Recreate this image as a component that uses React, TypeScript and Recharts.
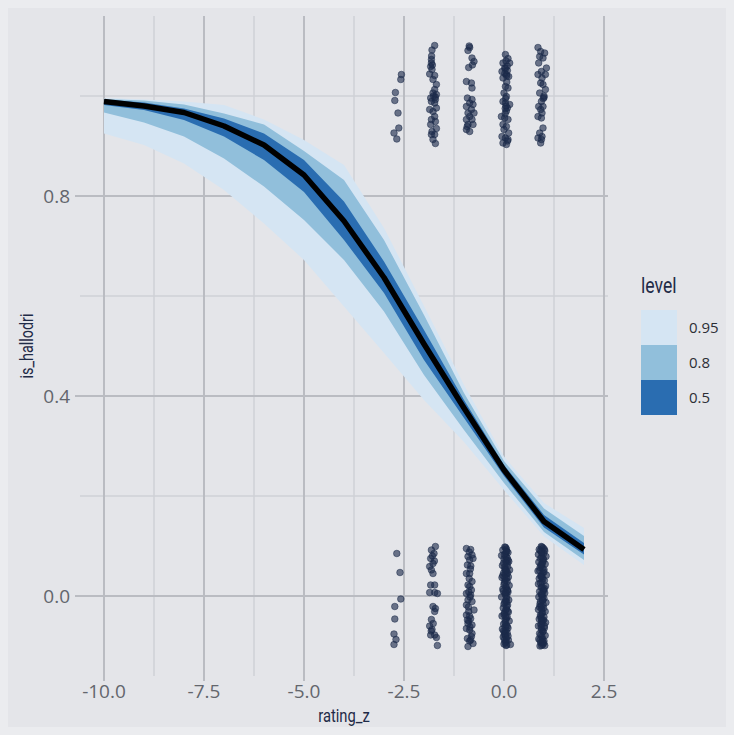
import { ComposedChart, Area, Line, Scatter, XAxis, YAxis, CartesianGrid } from 'recharts'

// posterior curve of is_hallodri over rating_z
const ratingZ = [-10, -9, -8, -7, -6, -5, -4, -3, -2, -1, 0, 1, 2]
const median = [0.989, 0.980, 0.967, 0.940, 0.902, 0.842, 0.750, 0.637, 0.504, 0.376, 0.252, 0.149, 0.093]
const lo95 = [0.925, 0.902, 0.865, 0.812, 0.745, 0.672, 0.579, 0.486, 0.392, 0.308, 0.212, 0.119, 0.062]
const hi95 = [0.996, 0.993, 0.989, 0.982, 0.953, 0.912, 0.862, 0.736, 0.580, 0.422, 0.279, 0.186, 0.136]
const lo80 = [0.967, 0.947, 0.919, 0.875, 0.819, 0.752, 0.672, 0.569, 0.442, 0.332, 0.226, 0.128, 0.072]
const hi80 = [0.994, 0.991, 0.983, 0.965, 0.943, 0.890, 0.832, 0.712, 0.562, 0.406, 0.270, 0.175, 0.120]
const lo50 = [0.982, 0.972, 0.952, 0.919, 0.872, 0.808, 0.712, 0.606, 0.472, 0.356, 0.240, 0.137, 0.083]
const hi50 = [0.993, 0.987, 0.975, 0.955, 0.925, 0.872, 0.789, 0.669, 0.532, 0.392, 0.262, 0.162, 0.106]

const xTicks = [-10, -7.5, -5, -2.5, 0, 2.5]
const xMinor = [-8.75, -6.25, -3.75, -1.25, 1.25]
const yTicks = [0, 0.4, 0.8]
const yMinor = [0.2, 0.6, 1.0]

const levels = ['0.95', '0.8', '0.5']
const levelColors = ['#d5e5f3', '#91bfdb', '#2a6db1']

// jittered observations
const g1Top = [[-2.565, 1.043], [-2.58, 1.033], [-2.715, 1.007], [-2.73, 0.991], [-2.65, 0.966], [-2.63, 0.936], [-2.75, 0.926], [-2.68, 0.914]]
const g2Top = [
  [-1.733, 1.101], [-1.8, 1.092], [-1.815, 1.073], [-1.815, 1.066], [-1.833, 1.059], [-1.8, 1.053], [-1.858, 1.044],
  [-1.733, 1.041], [-1.775, 1.033], [-1.69, 1.023], [-1.733, 1.013], [-1.775, 1.006], [-1.69, 1.003], [-1.715, 0.993],
  [-1.833, 0.996], [-1.815, 0.989], [-1.733, 0.986], [-1.69, 0.976], [-1.858, 0.973], [-1.775, 0.969], [-1.733, 0.959],
  [-1.815, 0.953], [-1.715, 0.949], [-1.833, 0.943], [-1.69, 0.935], [-1.8, 0.929], [-1.733, 0.923], [-1.815, 0.923],
  [-1.775, 0.913], [-1.715, 0.905], [-1.81, 1.08], [-1.79, 1.062], [-1.76, 1.0], [-1.72, 0.998],
]
const g3Top = [
  [-0.858, 1.097], [-0.9, 1.091], [-0.8, 1.076], [-0.75, 1.069], [-0.883, 1.057], [-0.94, 1.029], [-0.815, 1.026],
  [-0.8, 1.016], [-0.915, 0.996], [-0.8, 0.993], [-0.858, 0.986], [-0.775, 0.983], [-0.94, 0.979], [-0.815, 0.973],
  [-0.9, 0.966], [-0.75, 0.966], [-0.858, 0.959], [-0.94, 0.953], [-0.8, 0.953], [-0.9, 0.943], [-0.775, 0.943],
  [-0.94, 0.933], [-0.858, 0.929], [-0.87, 1.1], [-0.79, 1.062], [-0.92, 0.939],
]
const g4Top = [
  [0.035, 1.083], [0.1, 1.075], [-0.025, 1.066], [0.142, 1.066], [0.017, 1.056], [0.085, 1.051], [-0.05, 1.049],
  [0.06, 1.043], [0.117, 1.039], [-0.025, 1.036], [0.035, 1.019], [0.1, 1.016], [0, 1.006], [0.06, 0.999],
  [-0.025, 0.989], [0.035, 0.986], [0.142, 0.983], [0.085, 0.976], [-0.065, 0.959], [0.017, 0.956], [0.1, 0.953],
  [-0.025, 0.943], [0.06, 0.939], [0, 0.933], [0.117, 0.926], [-0.05, 0.919], [0.035, 0.916], [0.1, 0.913],
  [-0.025, 0.906], [0.06, 0.903], [0.05, 1.07], [0.08, 1.06], [0.02, 1.045], [0.07, 1.028], [0.04, 0.995],
  [0.06, 0.97], [0.03, 0.965], [0.09, 0.91], [0.04, 1.055], [0.07, 1.04], [0.03, 0.975], [0.05, 0.98],
]
const g5Top = [
  [0.85, 1.097], [0.917, 1.089], [1.017, 1.086], [0.892, 1.079], [0.975, 1.076], [0.867, 1.066], [1.06, 1.056],
  [0.935, 1.049], [1.035, 1.043], [0.85, 1.043], [0.95, 1.036], [0.917, 1.026], [0.975, 1.023], [1.035, 1.013],
  [0.892, 1.006], [1.0, 0.997], [0.935, 0.989], [0.867, 0.979], [0.975, 0.979], [0.917, 0.973], [0.95, 0.966],
  [0.85, 0.959], [0.935, 0.956], [0.975, 0.936], [0.892, 0.926], [0.95, 0.919], [0.85, 0.916], [0.935, 0.913],
  [0.917, 0.906], [1.0, 1.0], [0.98, 0.995],
]
const g1Bottom = [[-2.68, 0.085], [-2.6, 0.047], [-2.58, -0.006], [-2.73, -0.021], [-2.73, -0.046], [-2.75, -0.076], [-2.7, -0.087], [-2.75, -0.097]]
const g2Bottom = [
  [-1.715, 0.099], [-1.815, 0.092], [-1.75, 0.085], [-1.833, 0.075], [-1.775, 0.065], [-1.858, 0.059], [-1.815, 0.052],
  [-1.775, 0.045], [-1.833, 0.022], [-1.733, 0.022], [-1.858, 0.007], [-1.733, 0.007], [-1.665, 0.005], [-1.775, -0.021],
  [-1.715, -0.025], [-1.733, -0.031], [-1.815, -0.047], [-1.858, -0.06], [-1.8, -0.067], [-1.833, -0.078], [-1.733, -0.078],
  [-1.69, -0.083], [-1.665, -0.099], [-1.79, 0.08], [-1.74, 0.07], [-1.77, -0.055], [-1.82, -0.07],
]
const g3Bottom = [
  [-0.94, 0.095], [-0.833, 0.093], [-0.8, 0.082], [-0.9, 0.079], [-0.775, 0.075], [-0.915, 0.062], [-0.858, 0.072],
  [-0.858, 0.045], [-0.94, 0.045], [-0.8, 0.029], [-0.9, 0.022], [-0.858, 0.019], [-0.815, 0.012], [-0.94, 0.005],
  [-0.833, 0.002], [-0.9, -0.008], [-0.8, -0.011], [-0.94, -0.018], [-0.75, -0.028], [-0.883, -0.031], [-0.94, -0.038],
  [-0.833, -0.045], [-0.915, -0.048], [-0.9, -0.055], [-0.8, -0.058], [-0.94, -0.065], [-0.858, -0.068], [-0.8, -0.075],
  [-0.815, -0.081], [-0.915, -0.085], [-0.833, -0.088], [-0.775, -0.095], [-0.9, -0.101], [-0.87, 0.035], [-0.85, -0.002],
  [-0.88, -0.05], [-0.86, -0.09], [-0.83, 0.06], [-0.87, 0.088], [-0.84, 0.054], [-0.89, -0.022], [-0.85, -0.062],
  [-0.88, 0.008], [-0.86, -0.04],
]
const g4Bottom = [
  [0.02, 0.098], [0.06, 0.094], [-0.03, 0.092], [0.1, 0.087], [0.04, 0.085], [-0.06, 0.081], [0.08, 0.076], [0.0, 0.074],
  [0.12, 0.069], [0.05, 0.067], [-0.04, 0.061], [0.09, 0.059], [0.02, 0.054], [0.14, 0.052], [-0.01, 0.046], [0.07, 0.044],
  [0.11, 0.038], [-0.05, 0.037], [0.03, 0.031], [0.08, 0.029], [0.0, 0.023], [0.13, 0.021], [0.05, 0.016], [-0.03, 0.014],
  [0.1, 0.008], [0.02, 0.006], [0.07, 0.0], [-0.06, -0.002], [0.12, -0.008], [0.04, -0.01], [0.0, -0.016], [0.09, -0.018],
  [-0.02, -0.024], [0.06, -0.026], [0.11, -0.032], [0.01, -0.034], [-0.05, -0.04], [0.08, -0.042], [0.03, -0.048],
  [0.13, -0.05], [-0.01, -0.056], [0.06, -0.058], [0.1, -0.064], [-0.04, -0.066], [0.02, -0.072], [0.08, -0.074],
  [0.04, -0.08], [-0.02, -0.082], [0.11, -0.088], [0.05, -0.09], [0.0, -0.096], [0.07, -0.098], [0.16, -0.097],
  [-0.03, 0.041], [0.09, 0.011], [0.03, -0.061], [0.05, 0.079], [0.01, -0.087],
]
const g4BottomDense = [
  [0.04, 0.097], [0.07, 0.089], [0.01, 0.083], [0.05, 0.072], [0.08, 0.065], [0.02, 0.058], [0.06, 0.05], [0.03, 0.043],
  [0.07, 0.035], [0.01, 0.027], [0.05, 0.019], [0.08, 0.012], [0.03, 0.003], [0.06, -0.005], [0.02, -0.013], [0.07, -0.021],
  [0.04, -0.029], [0.0, -0.037], [0.06, -0.045], [0.03, -0.053], [0.08, -0.061], [0.05, -0.069], [0.01, -0.077],
  [0.06, -0.085], [0.03, -0.093], [0.09, 0.046], [0.09, -0.03], [-0.01, 0.066], [-0.01, -0.07], [0.04, 0.052],
  [0.05, 0.006], [0.04, -0.04], [0.06, 0.09], [0.02, 0.036], [0.07, -0.012], [0.03, -0.075], [0.05, -0.099],
  [0.1, 0.072], [-0.02, 0.01], [0.1, -0.08],
]
const g5Bottom = [
  [0.93, 0.099], [0.98, 0.096], [0.88, 0.093], [1.02, 0.09], [0.95, 0.086], [0.86, 0.083], [1.05, 0.079], [0.91, 0.075],
  [0.99, 0.072], [0.87, 0.068], [1.03, 0.064], [0.94, 0.061], [0.9, 0.057], [1.0, 0.053], [0.85, 0.05], [0.97, 0.046],
  [1.06, 0.042], [0.92, 0.039], [0.88, 0.035], [1.01, 0.031], [0.95, 0.028], [0.86, 0.024], [1.04, 0.02], [0.93, 0.017],
  [0.98, 0.013], [0.89, 0.009], [1.02, 0.006], [0.94, 0.002], [0.87, -0.002], [1.0, -0.005], [0.96, -0.009], [1.05, -0.013],
  [0.9, -0.016], [0.93, -0.02], [0.99, -0.024], [0.86, -0.027], [1.03, -0.031], [0.95, -0.035], [0.91, -0.038],
  [1.0, -0.042], [0.88, -0.046], [0.97, -0.049], [1.04, -0.053], [0.92, -0.057], [0.86, -0.06], [1.01, -0.064],
  [0.94, -0.068], [0.98, -0.071], [0.89, -0.075], [1.03, -0.079], [0.95, -0.082], [0.87, -0.086], [1.0, -0.09],
  [0.92, -0.093], [0.97, -0.097], [0.9, -0.1], [1.02, -0.099], [0.96, 0.065], [0.93, -0.045], [0.97, 0.004],
]
const g5BottomDense = [
  [0.95, 0.098], [0.91, 0.091], [0.99, 0.085], [0.94, 0.078], [0.97, 0.069], [0.92, 0.062], [0.96, 0.055], [1.0, 0.048],
  [0.93, 0.041], [0.97, 0.034], [0.91, 0.026], [0.95, 0.018], [0.99, 0.011], [0.93, 0.004], [0.96, -0.003], [0.91, -0.011],
  [0.98, -0.018], [0.94, -0.026], [0.96, -0.033], [0.92, -0.041], [0.99, -0.048], [0.95, -0.056], [0.93, -0.063],
  [0.97, -0.071], [0.92, -0.078], [0.96, -0.086], [0.99, -0.094], [0.94, -0.099], [1.01, 0.093], [0.89, 0.051],
  [1.01, 0.015], [0.89, -0.022], [1.01, -0.06], [0.9, -0.088], [0.95, 0.038], [0.97, -0.008], [0.94, -0.05],
  [0.98, 0.075], [0.93, 0.088], [0.96, -0.092],
]

const curveData = ratingZ.map((x, i) => ({
  x,
  median: median[i],
  ci95: [lo95[i], hi95[i]],
  ci80: [lo80[i], hi80[i]],
  ci50: [lo50[i], hi50[i]],
}))

const pointData = [
  ...g1Top, ...g2Top, ...g3Top, ...g4Top, ...g5Top,
  ...g1Bottom, ...g2Bottom, ...g3Bottom, ...g4Bottom, ...g4BottomDense, ...g5Bottom, ...g5BottomDense,
].map(([x, y]) => ({ x, y }))

const majorGrid = '#babcc2'
const minorGrid = '#cfd1d6'
const titleFont = 'Roboto, "Noto Sans", sans-serif'
const tickFont = '"Open Sans", "Noto Sans", sans-serif'

const Dot = (props: any) => (
  <circle cx={props.cx} cy={props.cy} r={3.3} fill="#1c2a4a" fillOpacity={0.62} stroke="#1c2a4a" strokeOpacity={0.65} strokeWidth={0.8} />
)

export default function App() {
  return (
    <div style={{ position: 'fixed', left: 0, top: 0, width: 734, height: 735, background: '#ebecef' }}>
      <div style={{ position: 'absolute', left: 8, top: 8, width: 718, height: 719, background: '#e4e5e9' }} />
      <div style={{ position: 'absolute', left: 0, top: 0 }}>
        <ComposedChart width={734} height={735} data={curveData} margin={{ top: 16, right: 126, bottom: 0, left: 8 }}>
          <CartesianGrid verticalValues={xMinor} horizontalValues={yMinor} stroke={minorGrid} strokeWidth={1.5} />
          <CartesianGrid verticalValues={xTicks} horizontalValues={yTicks} stroke={majorGrid} strokeWidth={2} />
          <XAxis
            type="number" dataKey="x" domain={[-10.6, 2.6]} ticks={xTicks} allowDataOverflow
            height={59} axisLine={false} tickSize={5} tickMargin={4}
            tickLine={{ stroke: majorGrid, strokeWidth: 2 }}
            tickFormatter={(v) => v.toFixed(1)}
            tick={{ fill: '#63666d', fontSize: 19, fontFamily: tickFont }}
          />
          <YAxis
            type="number" domain={[-0.16, 1.16]} ticks={yTicks} allowDataOverflow
            width={72} axisLine={false} tickSize={5} tickMargin={5}
            tickLine={{ stroke: majorGrid, strokeWidth: 2 }}
            tickFormatter={(v) => v.toFixed(1)}
            tick={{ fill: '#63666d', fontSize: 19, fontFamily: tickFont }}
          />
          <Area dataKey="ci95" type="linear" fill={levelColors[0]} fillOpacity={1} stroke="none" isAnimationActive={false} />
          <Area dataKey="ci80" type="linear" fill={levelColors[1]} fillOpacity={1} stroke="none" isAnimationActive={false} />
          <Area dataKey="ci50" type="linear" fill={levelColors[2]} fillOpacity={1} stroke="none" isAnimationActive={false} />
          <Line dataKey="median" type="linear" stroke="#000" strokeWidth={5.5} dot={false} strokeLinejoin="round" isAnimationActive={false} />
          <Scatter data={pointData} dataKey="y" shape={Dot} isAnimationActive={false} />
        </ComposedChart>
      </div>

      {/* axis titles */}
      <div style={{ position: 'absolute', left: 344, top: 705, transform: 'translateX(-50%) scaleX(0.82)', fontFamily: titleFont, fontSize: 18, color: '#1f2b47', whiteSpace: 'nowrap' }}>
        rating_z
      </div>
      <div style={{ position: 'absolute', left: 26, top: 346, transform: 'translate(-50%, -50%) rotate(-90deg) scaleX(0.8)', fontFamily: titleFont, fontSize: 18, color: '#1f2b47', whiteSpace: 'nowrap' }}>
        is_hallodri
      </div>

      {/* legend */}
      <div style={{ position: 'absolute', left: 641, top: 273, transform: 'scaleX(0.8)', transformOrigin: 'left center', fontFamily: titleFont, fontSize: 22, color: '#1f2b47' }}>level</div>
      {levels.map((lv, i) => (
        <div key={lv} style={{ position: 'absolute', left: 641, top: 310 + i * 35, width: 36, height: 35, background: levelColors[i] }} />
      ))}
      {levels.map((lv, i) => (
        <div key={'t' + lv} style={{ position: 'absolute', left: 689, top: 310 + i * 35, height: 35, lineHeight: '35px', fontFamily: tickFont, fontSize: 15, color: '#2c2f36' }}>
          {lv}
        </div>
      ))}
    </div>
  )
}
